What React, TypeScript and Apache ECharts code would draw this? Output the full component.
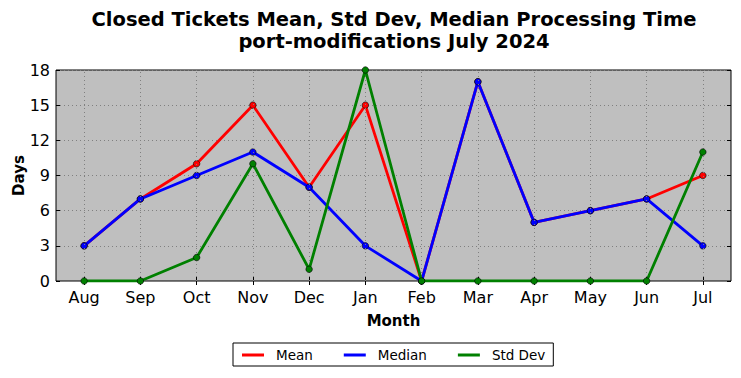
import React, { useEffect, useRef } from "react";
import * as echarts from "echarts";

const months = ["Aug", "Sep", "Oct", "Nov", "Dec", "Jan", "Feb", "Mar", "Apr", "May", "Jun", "Jul"];
const meanValues = [3, 7, 10, 15, 8, 15, 0, 17, 5, 6, 7, 9];
const medianValues = [3, 7, 9, 11, 8, 3, 0, 17, 5, 6, 7, 3];
const stdDevValues = [0, 0, 2, 10, 1, 18, 0, 0, 0, 0, 0, 11];
const yTicks = [0, 3, 6, 9, 12, 15, 18];

const FONT = "DejaVu Sans";

export default function App() {
  const ref = useRef<HTMLDivElement>(null);
  useEffect(() => {
    if (!ref.current) return;
    const chart = echarts.init(ref.current, null, { renderer: "svg" });
    const mkSeries = (name: string, data: number[], color: string, z: number) => ({
      name,
      type: "line",
      data,
      z,
      symbol: "circle",
      symbolSize: 6.5,
      lineStyle: { color, width: 2.8 },
      itemStyle: { color, borderColor: "#000", borderWidth: 0.6 },
    });
    chart.setOption({
      animation: false,
      graphic: [
        {
          type: "text",
          x: 394,
          y: 8,
          style: {
            text: "Closed Tickets Mean, Std Dev, Median Processing Time\nport-modifications July 2024",
            textAlign: "center",
            font: `bold 19.5px "${FONT}"`,
            lineHeight: 22,
            fill: "#000",
          },
        },
      ],
      grid: {
        left: 56,
        right: 10,
        top: 70,
        bottom: 97,
        outerBoundsMode: "none",
        containLabel: false,
        show: true,
        backgroundColor: "#bfbfbf",
        borderColor: "#000",
        borderWidth: 1,
      },
      legend: {
        data: ["Mean", "Median", "Std Dev"],
        icon: "rect",
        left: 233,
        top: 343,
        itemWidth: 22,
        itemHeight: 3,
        itemGap: 31,
        padding: [5, 8, 4, 9],
        borderColor: "#000",
        borderWidth: 1,
        backgroundColor: "#fff",
        borderRadius: 0,
        itemStyle: { borderWidth: 0 },
        textStyle: { fontFamily: FONT, fontSize: 13.5, color: "#000", padding: [0, 0, 0, 7] },
      },
      xAxis: [
        {
          type: "category",
          data: months,
          boundaryGap: true,
          name: "Month",
          nameLocation: "middle",
          nameGap: 32,
          nameMoveOverlap: false,
          nameTextStyle: { fontFamily: FONT, fontSize: 15, fontWeight: "bold", color: "#000" },
          axisLine: { show: false },
          axisTick: { show: true, inside: true, alignWithLabel: true, length: 4, lineStyle: { color: "#000" } },
          axisLabel: { fontFamily: FONT, fontSize: 16, color: "#000", margin: 8 },
          splitLine: { show: false },
        },
        {
          type: "category",
          data: months,
          position: "top",
          boundaryGap: true,
          axisLine: { show: false },
          axisTick: { show: true, inside: true, alignWithLabel: true, length: 4, lineStyle: { color: "#000" } },
          axisLabel: { show: false },
          splitLine: { show: false },
        },
      ],
      yAxis: [
        {
          type: "value",
          min: 0,
          max: 18,
          interval: 3,
          name: "Days",
          nameLocation: "middle",
          nameGap: 30,
          nameMoveOverlap: false,
          nameTextStyle: { fontFamily: FONT, fontSize: 15, fontWeight: "bold", color: "#000" },
          axisLine: { show: false },
          axisTick: { show: true, inside: true, length: 4, lineStyle: { color: "#000" } },
          axisLabel: {
            fontFamily: FONT,
            fontSize: 16,
            color: "#000",
            margin: 6,
            formatter: (v: number) => (yTicks.includes(v) ? String(v) : ""),
          },
          splitLine: { show: true, lineStyle: { color: "#808080", type: [1, 3], width: 1 } },
        },
        {
          type: "value",
          min: 0,
          max: 18,
          interval: 3,
          position: "right",
          axisLine: { show: false },
          axisTick: { show: true, inside: true, length: 4, lineStyle: { color: "#000" } },
          axisLabel: { show: false },
          splitLine: { show: false },
        },
      ],
      series: [
        {
          name: "grid-v",
          type: "line",
          data: [],
          z: 1,
          silent: true,
          markLine: {
            silent: true,
            symbol: "none",
            label: { show: false },
            lineStyle: { color: "#808080", type: [1, 3], width: 1 },
            data: months.map((m) => ({ xAxis: m })),
          },
        },
        mkSeries("Mean", meanValues, "#ff0000", 3),
        mkSeries("Median", medianValues, "#0000ff", 4),
        mkSeries("Std Dev", stdDevValues, "#008000", 5),
      ],
    });
    return () => chart.dispose();
  }, []);
  return <div ref={ref} style={{ width: 741, height: 378, position: "absolute", left: 0, top: 0 }} />;
}
